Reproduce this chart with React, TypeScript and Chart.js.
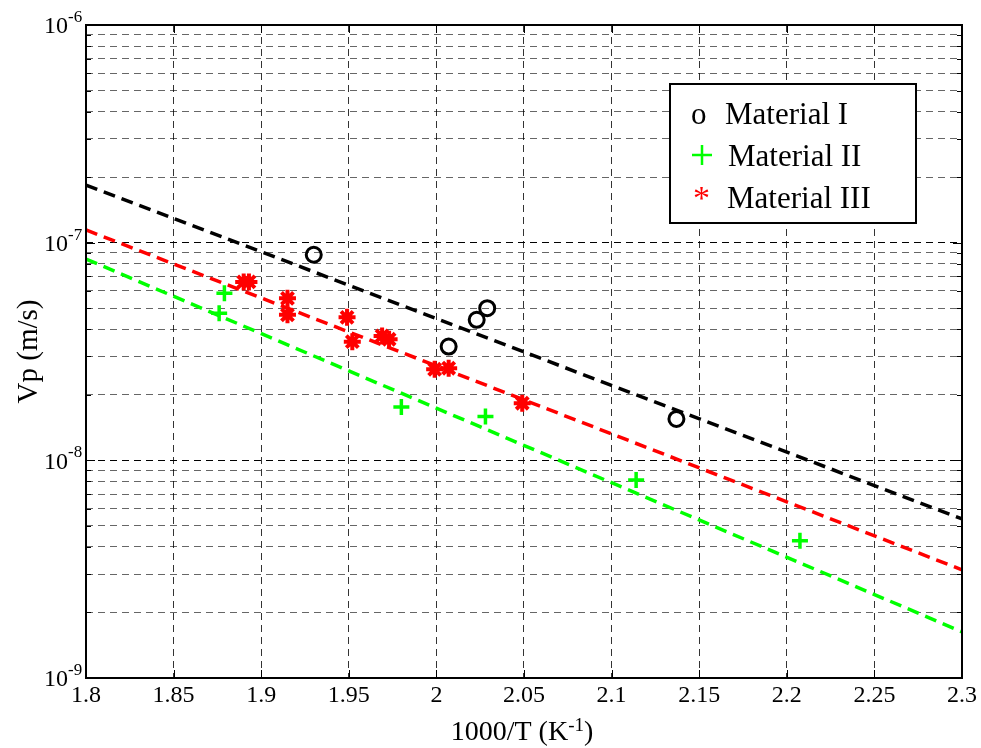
import React, { useEffect, useRef } from "react";
import { Chart, registerables } from "chart.js";

Chart.register(...registerables);

// ---- Data ----
const xMin = 1.8;
const xMax = 2.3;
const xTickStep = 0.05;
const yDecadeExps = [-9, -8, -7, -6];

const mat1X = [1.93, 2.007, 2.023, 2.029, 2.137];
const mat1Y = [8.8e-8, 3.33e-8, 4.42e-8, 5.0e-8, 1.55e-8];

const mat2X = [1.879, 1.876, 1.98, 2.028, 2.114, 2.2075];
const mat2Y = [5.86e-8, 4.74e-8, 1.76e-8, 1.59e-8, 8.13e-9, 4.27e-9];

const mat3X = [1.89, 1.893, 1.915, 1.915, 1.949, 1.952, 1.969, 1.973, 1.999, 2.007, 2.049];
const mat3Y = [6.6e-8, 6.6e-8, 5.55e-8, 4.66e-8, 4.54e-8, 3.51e-8, 3.73e-8, 3.6e-8, 2.62e-8, 2.65e-8, 1.83e-8];

const fitX = [1.8, 2.3];
const fit1Y = [1.84e-7, 5.38e-9];
const fit2Y = [8.41e-8, 1.63e-9];
const fit3Y = [1.144e-7, 3.14e-9];

const legendLabels = ["Material I", "Material II", "Material III"];
const xTitle = "1000/T (K";
const xTitleSup = "-1";
const xTitleEnd = ")";
const yTitle = "Vp (m/s)";

const SERIF = "'Liberation Serif', 'Times New Roman', serif";

const pts = (xs: number[], ys: number[]) => xs.map((x, i) => ({ x, y: ys[i] }));

const isDecade = (v: number) => {
  const l = Math.log10(v);
  return Math.abs(l - Math.round(l)) < 1e-6;
};

const overlay = {
  id: "matlabOverlay",
  afterDraw(chart: any) {
    const { ctx, chartArea: a, scales } = chart;
    const xs = scales.x;
    const ys = scales.y;
    ctx.save();
    // inward tick marks
    ctx.strokeStyle = "#000";
    ctx.lineWidth = 1;
    ctx.setLineDash([]);
    for (const t of xs.ticks) {
      const px = Math.round(xs.getPixelForValue(t.value)) + 0.5;
      ctx.beginPath();
      ctx.moveTo(px, a.bottom);
      ctx.lineTo(px, a.bottom - 8);
      ctx.moveTo(px, a.top);
      ctx.lineTo(px, a.top + 8);
      ctx.stroke();
    }
    for (const t of ys.ticks) {
      const py = Math.round(ys.getPixelForValue(t.value)) + 0.5;
      const len = isDecade(t.value) ? 9 : 5;
      ctx.beginPath();
      ctx.moveTo(a.left, py);
      ctx.lineTo(a.left + len, py);
      ctx.moveTo(a.right, py);
      ctx.lineTo(a.right - len, py);
      ctx.stroke();
    }
    // frame
    ctx.lineWidth = 2;
    ctx.strokeRect(a.left, a.top, a.right - a.left, a.bottom - a.top);

    // y tick labels 10^n
    ctx.fillStyle = "#000";
    for (const e of yDecadeExps) {
      const py = ys.getPixelForValue(Math.pow(10, e));
      ctx.font = `24px ${SERIF}`;
      ctx.textAlign = "right";
      ctx.textBaseline = "middle";
      ctx.fillText("10", 68, py + 2);
      ctx.font = `17px ${SERIF}`;
      ctx.textAlign = "left";
      ctx.textBaseline = "alphabetic";
      ctx.fillText(String(e), 68, py - 3);
    }

    // x title with superscript
    ctx.font = `28px ${SERIF}`;
    const w1 = ctx.measureText(xTitle).width;
    ctx.font = `19px ${SERIF}`;
    const w2 = ctx.measureText(xTitleSup).width;
    ctx.font = `28px ${SERIF}`;
    const w3 = ctx.measureText(xTitleEnd).width;
    const total = w1 + w2 + w3;
    let sx = (a.left + a.right) / 2 - total / 2 - 2;
    ctx.textAlign = "left";
    ctx.textBaseline = "alphabetic";
    ctx.fillText(xTitle, sx, 740);
    sx += w1;
    ctx.font = `19px ${SERIF}`;
    ctx.fillText(xTitleSup, sx, 731);
    sx += w2;
    ctx.font = `28px ${SERIF}`;
    ctx.fillText(xTitleEnd, sx, 740);

    // y title
    ctx.save();
    ctx.translate(37, (a.top + a.bottom) / 2);
    ctx.rotate(-Math.PI / 2);
    ctx.font = `29px ${SERIF}`;
    ctx.textAlign = "center";
    ctx.textBaseline = "alphabetic";
    ctx.fillText(yTitle, 0, 0);
    ctx.restore();

    // legend
    const lx = 670, ly = 84, lw = 246, lh = 139;
    ctx.fillStyle = "#fff";
    ctx.fillRect(lx, ly, lw, lh);
    ctx.strokeStyle = "#000";
    ctx.lineWidth = 2;
    ctx.strokeRect(lx, ly, lw, lh);
    ctx.font = `31px ${SERIF}`;
    ctx.textAlign = "left";
    ctx.textBaseline = "alphabetic";
    ctx.fillStyle = "#000";
    ctx.fillText("o", 691, 124);
    ctx.fillText(legendLabels[0], 725, 124);
    ctx.fillText(legendLabels[1], 728, 166);
    ctx.fillText(legendLabels[2], 727, 208);
    ctx.strokeStyle = "#00ff00";
    ctx.lineWidth = 2.5;
    ctx.beginPath();
    ctx.moveTo(692, 155);
    ctx.lineTo(712, 155);
    ctx.moveTo(702, 145);
    ctx.lineTo(702, 165);
    ctx.stroke();
    ctx.fillStyle = "#ff0000";
    ctx.font = `34px ${SERIF}`;
    ctx.fillText("*", 693, 209);
    ctx.restore();
  },
};

export default function App() {
  const ref = useRef<HTMLCanvasElement | null>(null);
  useEffect(() => {
    if (!ref.current) return;
    const dashedLine = (data: any, color: string) => ({
      data,
      showLine: true,
      borderColor: color,
      borderWidth: 3.5,
      borderDash: [12, 7],
      pointRadius: 0,
      pointHoverRadius: 0,
      fill: false,
    });
    const chart = new Chart(ref.current, {
      type: "scatter",
      data: {
        datasets: [
          dashedLine(pts(fitX, fit1Y), "#000000"),
          dashedLine(pts(fitX, fit3Y), "#ff0000"),
          dashedLine(pts(fitX, fit2Y), "#00ff00"),
          {
            label: legendLabels[0],
            data: pts(mat1X, mat1Y),
            pointStyle: "circle",
            pointRadius: 7.5,
            borderWidth: 3,
            borderColor: "#000",
            backgroundColor: "rgba(0,0,0,0)",
          },
          {
            label: legendLabels[1],
            data: pts(mat2X, mat2Y),
            pointStyle: "cross",
            pointRadius: 8,
            borderWidth: 3.5,
            borderColor: "#00ff00",
            backgroundColor: "#00ff00",
          },
          {
            label: legendLabels[2],
            data: pts(mat3X, mat3Y),
            pointStyle: "star",
            pointRadius: 8.5,
            borderWidth: 4,
            borderColor: "#ff0000",
            backgroundColor: "#ff0000",
          },
        ],
      },
      options: {
        responsive: false,
        animation: false,
        events: [],
        layout: { padding: { left: 0, top: 25, right: 19, bottom: 0 } },
        plugins: { legend: { display: false }, tooltip: { enabled: false }, title: { display: false } },
        scales: {
          x: {
            type: "linear",
            min: xMin,
            max: xMax,
            afterBuildTicks: (scale: any) => {
              const t = [];
              for (let v = xMin; v <= xMax + 1e-9; v += xTickStep) t.push({ value: parseFloat(v.toFixed(2)) });
              scale.ticks = t;
            },
            afterFit: (scale: any) => {
              scale.height = 70;
            },
            ticks: {
              callback: (v: any) => String(parseFloat(Number(v).toFixed(2))),
              font: { family: SERIF, size: 24 },
              color: "#000",
              padding: 3,
              maxRotation: 0,
              autoSkip: false,
            },
            grid: {
              drawTicks: false,
              color: "rgba(0,0,0,0.8)",
              lineWidth: 1,
            },
            border: { display: false, dash: [7, 5] },
          },
          y: {
            type: "logarithmic",
            min: 1e-9,
            max: 1e-6,
            afterBuildTicks: (scale: any) => {
              const t = [];
              for (const e of yDecadeExps) {
                if (e === -6) {
                  t.push({ value: 1e-6 });
                  continue;
                }
                for (let m = 1; m <= 9; m++) t.push({ value: m * Math.pow(10, e) });
              }
              scale.ticks = t;
            },
            afterFit: (scale: any) => {
              scale.width = 86;
            },
            ticks: { display: false, autoSkip: false },
            grid: {
              drawTicks: false,
              lineWidth: 1,
              color: (c: any) => (c.tick && isDecade(c.tick.value) ? "#000" : "rgba(0,0,0,0.6)"),
            },
            border: { display: false, dash: [7, 5] },
          },
        },
      },
      plugins: [overlay],
    } as any);
    return () => chart.destroy();
  }, []);
  return (
    <div style={{ position: "fixed", left: 0, top: 0, width: 981, height: 748, background: "#fff" }}>
      <canvas ref={ref} width={981} height={748} style={{ display: "block" }} />
    </div>
  );
}
